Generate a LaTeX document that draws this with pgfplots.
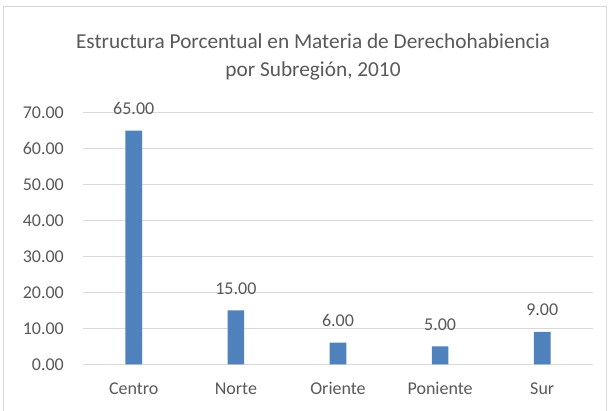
\documentclass[border=0pt]{standalone}
\usepackage{fontspec}
\setmainfont{Carlito}
\usepackage{pgfplots}
\pgfplotsset{compat=1.18}
\definecolor{barblue}{HTML}{4F81BD}
\definecolor{txt}{HTML}{595959}
\definecolor{gridc}{HTML}{D9D9D9}
\begin{document}
\begin{tikzpicture}[x=1pt,y=1pt]
\clip (-82.7,-46.7) rectangle (533.3,364.3);
\useasboundingbox (-82.7,-46.7) rectangle (533.3,364.3);
\fill[white] (-82.7,-46.7) rectangle (533.3,364.3);
\draw[gridc, line width=1pt] (-78.7,-60) rectangle (523.3,357.6);
\node[anchor=base, font=\fontsize{21.3}{26}\selectfont, text=txt] at (230.3,316) {Estructura Porcentual en Materia de Derechohabiencia};
\node[anchor=base, font=\fontsize{21.3}{26}\selectfont, text=txt] at (230.3,288) {por Subregión, 2010};
\begin{axis}[
  at={(0,0)}, anchor=south west,
  scale only axis, width=510.6pt, height=251.6pt,
  ymin=0, ymax=70, ytick={0,10,...,70},
  xmin=-0.5, xmax=4.5, xtick={0,1,2,3,4},
  xticklabels={Centro,Norte,Oriente,Poniente,Sur},
  axis line style={draw=none},
  major tick length=0pt,
  xmajorgrids=false, ymajorgrids=true, grid style={gridc, line width=1.1pt},
  /pgf/number format/fixed, /pgf/number format/fixed zerofill,
  /pgf/number format/precision=2, /pgf/number format/assume math mode=true,
  tick label style={font=\fontsize{18}{21}\selectfont, text=txt},
  yticklabel style={anchor=east, inner sep=0pt, xshift=-18.7pt},
  xticklabel style={anchor=base, inner sep=0pt, yshift=-30.4pt},
  nodes near coords, point meta=y,
  nodes near coords style={font=\fontsize{18}{21}\selectfont, text=txt, anchor=base, inner sep=0pt},
  every node near coord/.append style={yshift=16pt},
  clip=false,
]
\addplot[ybar, bar width=16.7pt, fill=barblue, draw=none] coordinates {(0,65) (1,15) (2,6) (3,5) (4,9)};
\end{axis}
\end{tikzpicture}
\end{document}
